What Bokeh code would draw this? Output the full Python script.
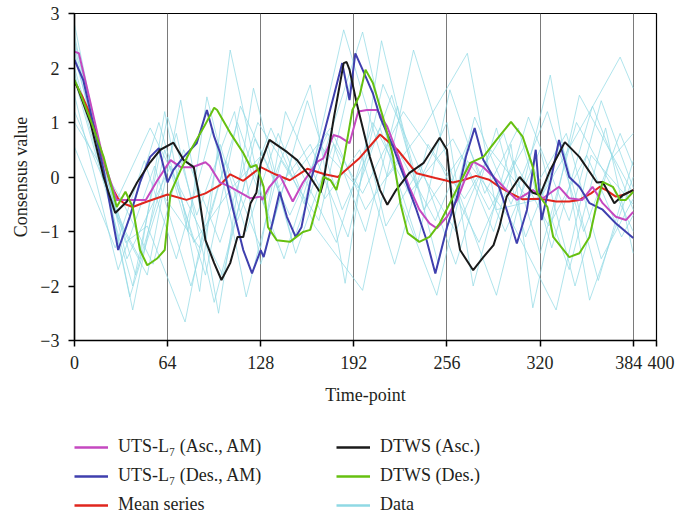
from bokeh.plotting import figure
from bokeh.models import FixedTicker, Legend, LegendItem, Range1d, ColumnDataSource
from bokeh.layouts import column
from bokeh.embed import file_html
from bokeh.resources import INLINE

# ---------------- data ----------------
mean_t = [0, 5, 10, 15, 20, 25, 30, 35, 40, 50, 64, 77, 90, 100, 107, 116, 128, 138, 148, 160,
          172, 181, 196, 210, 222, 235, 248, 256, 260, 268, 276, 285, 292, 300, 308, 320, 331,
          340, 347, 355, 361, 366, 372, 378, 384]
mean_v = [1.75, 1.5, 1.2, 0.8, 0.3, -0.15, -0.4, -0.5, -0.55, -0.45, -0.32, -0.42, -0.3, -0.15,
          0.05, -0.07, 0.18, 0.05, -0.06, 0.15, 0.05, 0.0, 0.35, 0.78, 0.5, 0.07, -0.02, -0.07,
          -0.1, -0.05, 0.02, -0.05, -0.18, -0.3, -0.41, -0.4, -0.45, -0.45, -0.42, -0.3, -0.18,
          -0.25, -0.36, -0.32, -0.24]

dtws_asc_t = [0, 2, 11, 20, 28, 36, 43, 52, 59, 68, 75, 82, 85, 90, 96, 101, 107, 112, 116, 121,
              125, 128, 134, 146, 153, 162, 169, 171, 178, 185, 187, 189, 194, 203, 210, 215, 221,
              230, 240, 251, 256, 260, 265, 274, 281, 288, 292, 297, 306, 315, 320, 327, 337, 347,
              359, 363, 371, 377, 384]
dtws_asc_v = [1.75, 1.65, 0.99, 0.0, -0.66, -0.45, -0.1, 0.27, 0.5, 0.63, 0.31, 0.18, -0.24,
              -1.16, -1.58, -1.89, -1.58, -1.1, -1.1, -0.48, -0.29, 0.25, 0.68, 0.46, 0.31, 0.0,
              -0.29, -0.1, 1.05, 2.09, 2.11, 1.97, 1.35, 0.37, -0.24, -0.51, -0.24, 0.07, 0.26,
              0.72, 0.5, -0.6, -1.34, -1.71, -1.47, -1.25, -0.92, -0.36, 0.0, -0.29, -0.33, 0.13,
              0.64, 0.37, -0.1, -0.09, -0.48, -0.33, -0.24]

uts_des_t = [0, 6, 20, 30, 38, 45, 52, 58, 64, 68, 75, 84, 91, 96, 100, 109, 116, 122, 128, 130,
             136, 141, 146, 152, 156, 162, 169, 178, 184, 189, 193, 198, 205, 210, 219, 224, 235,
             242, 248, 256, 263, 269, 275, 281, 288, 292, 297, 304, 311, 317, 321, 327, 333, 340,
             347, 354, 363, 372, 384]
uts_des_v = [2.15, 1.78, 0.13, -1.34, -0.73, -0.1, 0.37, 0.53, -0.1, 0.13, 0.37, 0.62, 1.23,
             0.74, 0.45, -0.6, -1.34, -1.77, -1.34, -1.47, -0.85, -0.27, -0.73, -1.1, -0.92,
             -0.1, 0.55, 1.47, 2.09, 1.41, 2.27, 1.97, 1.54, 1.1, 0.55, 0.18, -0.6, -1.16, -1.77,
             -0.92, -0.36, 0.37, 0.9, 0.31, 0.0, -0.2, -0.6, -1.22, -0.6, 0.5, -0.79, -0.1, 0.68,
             0.0, -0.18, -0.48, -0.6, -0.85, -1.12]

uts_asc_t = [0, 3, 11, 20, 29, 38, 49, 57, 66, 73, 81, 90, 93, 100, 107, 121, 128, 129, 134, 141,
             150, 157, 167, 171, 178, 182, 189, 195, 201, 208, 215, 221, 230, 237, 244, 249, 256,
             263, 269, 274, 281, 288, 292, 297, 304, 315, 322, 333, 340, 349, 356, 363, 372, 379,
             384]
uts_asc_v = [2.3, 2.27, 1.36, 0.3, -0.42, -0.42, -0.42, -0.06, 0.31, 0.18, 0.18, 0.27, 0.2, -0.1,
             -0.18, -0.39, -0.36, -0.42, -0.18, 0.04, -0.45, -0.1, 0.28, 0.34, 0.77, 0.74, 0.62,
             1.2, 1.23, 1.23, 0.92, 0.5, -0.18, -0.6, -0.85, -0.94, -0.73, -0.42, 0.0, 0.28, 0.18,
             0.0, -0.1, -0.24, -0.42, -0.24, -0.39, -0.18, -0.39, -0.42, -0.18, -0.48, -0.73,
             -0.79, -0.64]

dtws_des_t = [0, 3, 11, 20, 29, 35, 40, 45, 50, 57, 62, 66, 73, 80, 89, 96, 98, 107, 116, 121,
              125, 130, 133, 139, 148, 157, 162, 167, 171, 176, 180, 185, 191, 196, 200, 205, 212,
              219, 224, 229, 237, 244, 251, 258, 265, 272, 281, 290, 300, 308, 315, 318, 325, 329,
              340, 347, 354, 359, 363, 370, 375, 379, 384]
dtws_des_v = [1.78, 1.6, 1.05, 0.37, -0.55, -0.27, -0.55, -1.34, -1.62, -1.49, -1.34, -0.29,
              0.13, 0.5, 0.92, 1.27, 1.23, 0.81, 0.44, 0.18, 0.22, -0.18, -0.92, -1.16, -1.19,
              -1.01, -0.97, -0.48, 0.0, -0.06, -0.24, 0.31, 1.23, 1.5, 1.97, 1.73, 1.1, 0.37,
              -0.48, -1.03, -1.19, -1.1, -0.85, -0.48, -0.1, 0.26, 0.37, 0.68, 1.01, 0.74, 0.18,
              -0.29, -0.55, -1.1, -1.47, -1.4, -1.1, -0.48, -0.09, -0.18, -0.42, -0.42, -0.27]

data_t = [
    [0, 40, 62, 78, 91, 112, 135, 158, 185, 215, 240, 270, 290, 320, 350, 375, 384],
    [0, 30, 50, 73, 99, 123, 150, 170, 198, 225, 249, 270, 300, 331, 355, 384],
    [0, 25, 45, 62, 86, 107, 130, 162, 186, 211, 235, 256, 274, 300, 315, 347, 384],
    [0, 35, 50, 76, 100, 118, 140, 165, 198, 233, 260, 290, 327, 354, 384],
    [0, 40, 64, 84, 110, 128, 150, 180, 205, 230, 260, 285, 310, 340, 365, 384],
    [0, 30, 55, 80, 104, 128, 145, 172, 196, 220, 243, 268, 295, 320, 345, 370, 384],
    [0, 28, 48, 70, 95, 118, 142, 168, 190, 214, 238, 262, 290, 310, 335, 360, 384],
    [0, 35, 58, 82, 108, 132, 152, 178, 200, 222, 250, 275, 300, 325, 350, 375, 384],
    [0, 38, 60, 86, 112, 136, 160, 184, 210, 236, 258, 282, 305, 328, 356, 384],
    [0, 32, 54, 75, 100, 126, 150, 176, 200, 224, 248, 270, 296, 320, 344, 368, 384],
    [0, 42, 70, 96, 120, 144, 168, 195, 218, 240, 266, 288, 312, 340, 362, 384],
    [0, 26, 52, 78, 102, 124, 148, 174, 198, 226, 252, 278, 302, 326, 352, 376, 384],
    [0, 36, 66, 90, 114, 140, 162, 188, 212, 238, 262, 286, 312, 338, 362, 384],
]
data_v = [
    [2.8, -2.44, 0.5, -1.0, 1.47, -0.8, 0.9, -0.5, 2.7, 0.0, 0.9, 2.27, -0.6, -0.4, 1.0, 2.2, 1.63],
    [2.5, -0.8, -1.8, 1.41, -2.5, 1.63, -1.2, 0.3, 2.66, -0.5, -2.17, 0.3, -0.8, -2.44, 0.4, -0.5],
    [2.3, -0.5, -1.5, 1.2, -2.1, 2.33, -0.5, 1.69, -1.95, 2.5, -0.2, 1.0, -2.0, 0.6, -2.4, 1.5, -0.3],
    [2.0, -1.2, -0.9, -2.66, 0.6, -1.0, 0.8, -0.9, -2.08, 2.33, 0.0, -2.17, 1.87, -2.26, 0.0],
    [1.8, -2.0, 1.1, -0.7, 1.2, -1.6, 0.4, -1.2, 1.0, -0.3, 0.7, -0.6, 0.6, -1.7, 0.9, -1.4],
    [1.5, -1.7, 0.2, -2.0, 0.3, -1.3, 1.2, -0.4, 0.5, -1.6, 0.6, -0.4, 0.8, -1.4, 1.0, -0.2, -1.0],
    [0.55, -1.3, 0.3, -1.5, 0.9, -2.2, 0.3, -0.8, 1.8, -0.9, 0.2, -1.6, 0.9, -1.1, 0.6, -1.9, 0.3],
    [1.2, -1.0, 1.0, -1.2, -0.2, 0.5, -1.4, 0.6, -1.0, 1.3, -1.6, 1.1, -0.5, 1.2, -1.0, 0.8, 0.2],
    [2.6, -2.2, -0.3, -1.3, 1.0, -0.9, 1.4, -0.6, 0.9, -1.2, 1.6, -0.3, 0.9, -1.3, 1.3, -0.6],
    [1.0, -0.4, -1.6, 0.5, -1.2, 1.0, 0.0, 0.9, -0.6, 0.4, -0.8, 0.6, -1.0, 0.5, -2.0, 0.3, 0.8],
    [2.2, -1.8, 0.8, -2.3, 0.2, -1.5, 0.6, -0.2, 1.5, -0.6, 0.4, -1.0, 1.1, -0.8, 1.4, -0.2],
    [1.9, -0.6, 0.9, -0.5, -1.8, 0.7, -0.7, 0.8, -0.3, 1.2, 0.2, -1.2, 0.3, -0.9, 0.4, -1.1, -0.7],
    [2.4, -1.5, 0.2, -1.8, 1.3, -0.2, 0.6, -1.1, 1.7, 0.1, -1.0, 0.5, -0.4, 0.8, -1.5, -0.4],
]

x_ticks = [0, 64, 128, 192, 256, 320, 384, 400]
x_tick_labels = ["0", "64", "128", "192", "256", "320", "384\u00a0\u00a0", "\u00a0\u00a0400"]
grid_ticks = [64, 128, 192, 256, 320, 384]
y_ticks = [-3, -2, -1, 0, 1, 2, 3]
y_tick_labels = ["\u22123", "\u22122", "\u22121", "0", "1", "2", "3"]

legend_labels = ["UTS-L\u2087 (Asc., AM)", "UTS-L\u2087 (Des., AM)", "Mean series",
                 "DTWS (Asc.)", "DTWS (Des.)", "Data"]

FONT = "Liberation Serif"
FS = "18px"
TXT = "#231f20"

C_UA, C_UD, C_MEAN = "#c548c0", "#3f3fae", "#e0261e"
C_DA, C_DD, C_DATA = "#1a1a1a", "#66c010", "#8fd9e4"

p = figure(width=675, height=410, output_backend="svg", toolbar_location=None,
           x_range=Range1d(0, 400), y_range=Range1d(-3, 3),
           min_border_left=74, min_border_right=19, min_border_top=13, min_border_bottom=70)
p.background_fill_color = "white"
p.border_fill_color = "white"
p.outline_line_color = "black"
p.outline_line_width = 1.2

# grid
p.ygrid.visible = False
p.xgrid.ticker = FixedTicker(ticks=grid_ticks)
p.xgrid.grid_line_color = "#7a7a7a"
p.xgrid.grid_line_width = 1

# axes
for ax in (p.xaxis[0], p.yaxis[0]):
    ax.axis_line_color = "black"
    ax.axis_line_width = 1.5
    ax.major_tick_line_color = "black"
    ax.major_tick_line_width = 1.5
    ax.major_tick_out = 6
    ax.major_tick_in = 0
    ax.minor_tick_line_color = None
    ax.major_label_text_font = FONT
    ax.major_label_text_font_size = FS
    ax.major_label_text_color = TXT
    ax.axis_label_text_font = FONT
    ax.axis_label_text_font_size = FS
    ax.axis_label_text_font_style = "normal"
    ax.axis_label_text_color = TXT

p.xaxis.ticker = FixedTicker(ticks=x_ticks)
p.xaxis.major_label_overrides = {t: l for t, l in zip(x_ticks, x_tick_labels)}
p.xaxis.axis_label = "Time-point"
p.xaxis.major_label_standoff = 6
p.xaxis.axis_label_standoff = 9
p.yaxis.ticker = FixedTicker(ticks=y_ticks)
p.yaxis.major_label_overrides = {t: l for t, l in zip(y_ticks, y_tick_labels)}
p.yaxis.axis_label = "Consensus value"
p.yaxis.major_label_standoff = 9
p.yaxis.axis_label_standoff = 6

# data lines
src = ColumnDataSource(dict(xs=data_t, ys=data_v))
p.multi_line("xs", "ys", source=src, line_color=C_DATA, line_alpha=0.7, line_width=1)

p.line(mean_t, mean_v, line_color=C_MEAN, line_width=2)
p.line(uts_asc_t, uts_asc_v, line_color=C_UA, line_width=2)
p.line(uts_des_t, uts_des_v, line_color=C_UD, line_width=2)
p.line(dtws_asc_t, dtws_asc_v, line_color=C_DA, line_width=2)
p.line(dtws_des_t, dtws_des_v, line_color=C_DD, line_width=2)

# ---------------- legend panel (separate figure below) ----------------
lg = figure(width=675, height=105, output_backend="svg", toolbar_location=None,
            x_range=Range1d(0, 1), y_range=Range1d(0, 1), min_border=0)
lg.axis.visible = False
lg.grid.visible = False
lg.outline_line_color = None
lg.background_fill_color = "white"
lg.border_fill_color = "white"

colors = [C_UA, C_UD, C_MEAN, C_DA, C_DD, C_DATA]
nan = float("nan")
items = []
for lab, col in zip(legend_labels, colors):
    r = lg.line([nan, nan], [nan, nan], line_color=col, line_width=2.5)
    items.append(LegendItem(label=lab, renderers=[r]))

legend = Legend(items=items, location=(0, 0), orientation="vertical", nrows=3,
                glyph_width=34, glyph_height=18, label_height=18, label_width=210,
                label_standoff=10, spacing=8, padding=0, margin=0,
                border_line_color=None, background_fill_alpha=0,
                label_text_font=FONT, label_text_font_size=FS, label_text_color=TXT)
lg.add_layout(legend, "center")

layout = column(p, lg, spacing=0)
open("out.html", "w").write(file_html(layout, INLINE))
